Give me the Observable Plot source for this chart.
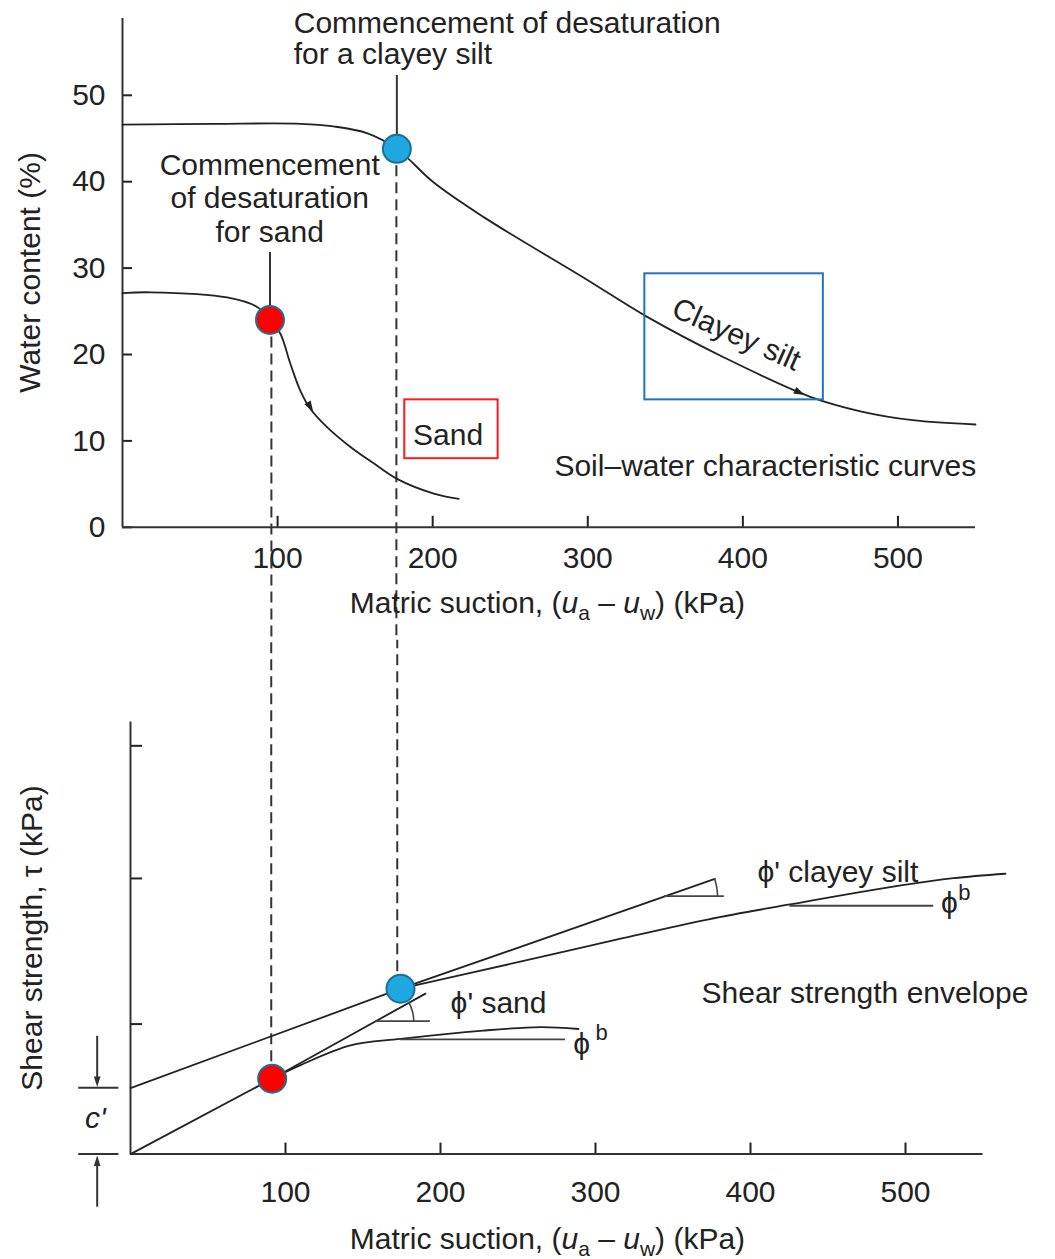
<!DOCTYPE html>
<html><head><meta charset="utf-8">
<script src="https://cdn.jsdelivr.net/npm/d3@7"></script>
<script src="https://cdn.jsdelivr.net/npm/@observablehq/plot@0.6"></script>
<style>
body{margin:0;background:#fff;}
#chart svg{display:block;}
</style></head><body><div id="chart"></div>
<script>
// ================= DATA =================
// --- Top panel: soil–water characteristic curves (suction kPa, water content %) ---
const clayeySiltSuction = [0, 61, 115, 136, 158, 176.9, 200.7, 232.9, 300, 336.9, 388.5, 443.5, 476.5, 509.5, 550];
const clayeySiltWater   = [46.6, 46.7, 46.7, 46.4, 45.6, 43.8, 39.9, 35.9, 28.6, 24.5, 19.6, 15.1, 13.4, 12.4, 11.9];
const sandSuction = [0, 18, 67.5, 86.8, 95.1, 101.8, 108.3, 114.7, 121.2, 131.9, 147, 162, 177, 200.7, 216.8];
const sandWater   = [27.1, 27.2, 26.6, 25.5, 24.0, 22.4, 18.9, 15.8, 13.7, 11.6, 9.3, 7.4, 5.6, 3.9, 3.3];
// commencement of desaturation: [sand, clayey silt]
const desatSuction = [95.1, 176.9];
const desatWater   = [24.0, 43.8];
const desatDashX   = [96.0, 176.6];
const leaderTopWater = [31.8, 52.3];
const topXTicks = [100, 200, 300, 400, 500];
const topYTicks = [0, 10, 20, 30, 40, 50];
// arrowheads on the curves: tip and a point behind it
const topArrowTipX = [123.0, 440.0], topArrowTipY = [13.35, 15.3];
const topArrowFromX = [116.0, 425.0], topArrowFromY = [15.45, 16.6];
// boxes around curve names
const boxX1 = [182, 336.8], boxX2 = [242.2, 451.9], boxY1 = [7.94, 14.75], boxY2 = [14.75, 29.34];
const boxColors = ["#ff1a1a", "#1f74c2"];

// --- Bottom panel: shear strength envelopes (suction kPa, shear strength kPa) ---
const cPrime = 25.5;
const clayPhiPrimeX = [0, 174.2, 377];   const clayPhiPrimeY = [25.4, 63.6, 105.8];
const clayEnvX = [174.2, 250, 310, 373, 425.5, 497, 531, 564.5];
const clayEnvY = [63.6, 73.8, 82, 90.3, 96, 103.3, 106.1, 107.8];
const sandPhiPrimeX = [0, 91.4, 190.3];  const sandPhiPrimeY = [0, 29.0, 61.7];
const sandEnvX = [91.4, 109.7, 141.9, 174.2, 227.7, 264.5, 289];
const sandEnvY = [29.0, 34.2, 41.8, 44.3, 47.5, 48.8, 48.1];
const shearDesatX = [91.4, 174.2], shearDesatY = [29.0, 63.6];
const shearDashX = [90.8, 172.1];
const refX1 = [158.2, 344.5, 174.2, 425.5], refX2 = [193.5, 383.1, 280.6, 518.2], refY = [51.1, 99.2, 44.1, 95.5];
const arcVertexX = [158.2, 344.5], arcVertexY = [51.1, 99.2], arcRadius = [38, 53];
const botXTicks = [100, 200, 300, 400, 500];
const botYTicks = [50, 106, 157];

const pointColors = ["#ff0000", "#1fa8e0"];

// texts
const XTITLE = "Matric suction, (ua – uw) (kPa)";
const PHI = "\u03D5";
const topTexts = [
  {x: 110.4, y: 56.59, t: "Commencement of desaturation\nfor a clayey silt", a: "start", lh: 1.055},
  {x: 94.9, y: 38.15, t: "Commencement\nof desaturation\nfor sand", a: "middle", lh: 1.11},
  {x: 209.9, y: 10.78, t: "Sand", a: "middle", lh: 1},
  {x: 278.5, y: 7.1, t: "Soil–water characteristic curves", a: "start", lh: 1}
];
const botTexts = [
  {x: 404.5, y: 108.5, t: PHI + "' clayey silt"},
  {x: 206.5, y: 57.9, t: PHI + "' sand"},
  {x: 368.4, y: 61.8, t: "Shear strength envelope"}
];
const phiTexts = [{x: 528.4, y: 96.6, t: PHI}, {x: 291.0, y: 42.2, t: PHI}];
const supTexts = [{x: 538, y: 100.3, t: "b"}, {x: 304, y: 46.4, t: "b"}];

// ================= LAYOUT =================
const W = 1055, TOP_H = 640, BOT_H = 619;
const FONT = "'Liberation Sans', Arial, Helvetica, 'DejaVu Sans', sans-serif";
const INK = "#222", AX = "#333";
const XD = [0, 550];
const TM = {l: 122, r: 80, t: 17.9, b: 113.2}, TYD = [0, 58.9];
const BM = {l: 130, r: 72.5, t: 81.4, b: 105.4}, BYD = [0, 166.2];
const tkx = (W - TM.l - TM.r) / (XD[1] - XD[0]), tky = (TOP_H - TM.t - TM.b) / (TYD[1] - TYD[0]);
const bkx = (W - BM.l - BM.r) / (XD[1] - XD[0]), bky = (BOT_H - BM.t - BM.b) / (BYD[1] - BYD[0]);

const rows = (xs, ys) => xs.map((x, i) => ({x, y: ys[i]}));
const rot = (dx, dy, kx, ky) => Math.atan2(dx * kx, dy * ky) * 180 / Math.PI;
const arrowHead = {draw(ctx, size) { const r = Math.sqrt(size / Math.PI); const h = r * 2.5, w = r * 0.8; ctx.moveTo(0, 0); ctx.lineTo(-w, h); ctx.lineTo(w, h); ctx.closePath(); }};
const DASH = {stroke: AX, strokeWidth: 2, strokeDasharray: "11,6"};

// ================= TOP PLOT =================
const topHeads = topArrowTipX.map((x, i) => ({x, y: topArrowTipY[i], r: rot(x - topArrowFromX[i], topArrowTipY[i] - topArrowFromY[i], tkx, tky)}));
const topPts = desatSuction.map((x, i) => ({x, y: desatWater[i], c: pointColors[i]}));
const topBoxes = boxX1.map((x1, i) => ({x1, x2: boxX2[i], y1: boxY1[i], y2: boxY2[i], c: boxColors[i]}));

const topPlot = Plot.plot({
  width: W, height: TOP_H,
  marginLeft: TM.l, marginRight: TM.r, marginTop: TM.t, marginBottom: TM.b,
  x: {domain: XD, label: null},
  y: {domain: TYD, label: null},
  style: {fontFamily: FONT, fontSize: "30px", color: INK, background: "white", overflow: "visible"},
  marks: [
    Plot.axisX(topXTicks, {tickSize: -11, tickFormat: () => "", strokeWidth: 2, label: null}),
    Plot.axisX(topXTicks, {tickSize: 0, tickPadding: 19, label: null}),
    Plot.axisY(topYTicks, {tickSize: -10, tickFormat: () => "", strokeWidth: 2, label: null}),
    Plot.axisY(topYTicks, {tickSize: 0, tickPadding: 17, label: null}),
    Plot.ruleY([0], {x1: XD[0], x2: XD[1], stroke: AX, strokeWidth: 2}),
    Plot.ruleX([0], {y1: TYD[0], y2: TYD[1], stroke: AX, strokeWidth: 2}),
    Plot.ruleX(desatDashX.map((x, i) => ({x, y1: desatWater[i], y2: -13.2})), {x: "x", y1: "y1", y2: "y2", ...DASH}),
    Plot.ruleX(desatSuction.map((x, i) => ({x, y1: desatWater[i], y2: leaderTopWater[i]})), {x: "x", y1: "y1", y2: "y2", stroke: AX, strokeWidth: 2}),
    Plot.line(rows(clayeySiltSuction, clayeySiltWater), {x: "x", y: "y", curve: "catmull-rom", stroke: INK, strokeWidth: 1.8}),
    Plot.line(rows(sandSuction, sandWater), {x: "x", y: "y", curve: "catmull-rom", stroke: INK, strokeWidth: 1.8}),
    Plot.dot(topHeads, {x: "x", y: "y", r: 4.5, symbol: arrowHead, rotate: "r", fill: INK, stroke: "none"}),
    Plot.rect(topBoxes, {x1: "x1", x2: "x2", y1: "y1", y2: "y2", fill: "none", stroke: "c", strokeWidth: 2}),
    Plot.dot(topPts, {x: "x", y: "y", r: 14, fill: "c", stroke: "#1d6f98", strokeWidth: 2}),
    Plot.text(topTexts, {x: "x", y: "y", text: "t", textAnchor: "start", lineHeight: 1.055, fill: INK, fontSize: 30, filter: d => d.a === "start" && d.lh !== 1}),
    Plot.text(topTexts, {x: "x", y: "y", text: "t", textAnchor: "middle", lineHeight: 1.11, fill: INK, fontSize: 30, filter: d => d.a === "middle"}),
    Plot.text(topTexts, {x: "x", y: "y", text: "t", textAnchor: "start", fill: INK, fontSize: 30, filter: d => d.a === "start" && d.lh === 1}),
    Plot.text([{x: 395.8, y: 22.3, t: "Clayey silt"}], {x: "x", y: "y", text: "t", rotate: 24, fill: INK, fontSize: 30}),
    Plot.text([{x: -59.3, y: 29.5, t: "Water content (%)"}], {x: "x", y: "y", text: "t", rotate: -90, fill: INK, fontSize: 30}),
    Plot.text([{x: 274, y: -8.8, t: XTITLE}], {x: "x", y: "y", text: "t", fill: INK, fontSize: 30})
  ]
});

// ================= BOTTOM PLOT =================
const arcs = [];
[[sandPhiPrimeX, sandPhiPrimeY], [clayPhiPrimeX, clayPhiPrimeY]].forEach(([xs, ys], k) => {
  const n = xs.length - 1;
  const ang = Math.atan(((ys[n] - ys[n - 1]) / (xs[n] - xs[n - 1])) * bky / bkx);
  for (let j = 0; j <= 12; j++) {
    const a = ang * j / 12;
    arcs.push({k, x: arcVertexX[k] + arcRadius[k] * Math.cos(a) / bkx, y: arcVertexY[k] + arcRadius[k] * Math.sin(a) / bky});
  }
});
const cArrowX = -21.5;
const cHeads = [{x: cArrowX, y: cPrime + 0.3, r: 180}, {x: cArrowX, y: -0.5, r: 0}];
const botPts = shearDesatX.map((x, i) => ({x, y: shearDesatY[i], c: pointColors[i]}));

const botPlot = Plot.plot({
  width: W, height: BOT_H,
  marginLeft: BM.l, marginRight: BM.r, marginTop: BM.t, marginBottom: BM.b,
  x: {domain: XD, label: null},
  y: {domain: BYD, label: null},
  style: {fontFamily: FONT, fontSize: "30px", color: INK, background: "white", overflow: "visible"},
  marks: [
    Plot.axisX(botXTicks, {tickSize: -11, tickFormat: () => "", strokeWidth: 2, label: null}),
    Plot.axisX(botXTicks, {tickSize: 0, tickPadding: 27, label: null}),
    Plot.axisY(botYTicks, {tickSize: -12, tickFormat: () => "", strokeWidth: 2, label: null}),
    Plot.ruleY([0], {x1: XD[0], x2: XD[1], stroke: AX, strokeWidth: 2}),
    Plot.ruleX([0], {y1: BYD[0], y2: BYD[1], stroke: AX, strokeWidth: 2}),
    // c' markers
    Plot.ruleY([0, cPrime], {x1: -33.4, x2: -7.5, stroke: AX, strokeWidth: 2}),
    Plot.ruleX([{y1: 45.3, y2: cPrime + 3}, {y1: -20.4, y2: -3}], {x: cArrowX, y1: "y1", y2: "y2", stroke: AX, strokeWidth: 2}),
    Plot.dot(cHeads, {x: "x", y: "y", r: 4.2, symbol: arrowHead, rotate: "r", fill: AX, stroke: "none"}),
    Plot.text([{x: -22.6, y: 13.6, t: "c'"}], {x: "x", y: "y", text: "t", fontStyle: "italic", fill: INK, fontSize: 30}),
    // dashed links from the upper panel
    Plot.ruleX(shearDashX.map((x, i) => ({x, y1: shearDesatY[i], y2: 197.6})), {x: "x", y1: "y1", y2: "y2", ...DASH}),
    // envelopes
    Plot.line(rows(clayPhiPrimeX, clayPhiPrimeY), {x: "x", y: "y", stroke: INK, strokeWidth: 1.8}),
    Plot.line(rows(clayEnvX, clayEnvY), {x: "x", y: "y", curve: "catmull-rom", stroke: INK, strokeWidth: 1.8}),
    Plot.line(rows(sandPhiPrimeX, sandPhiPrimeY), {x: "x", y: "y", stroke: INK, strokeWidth: 1.8}),
    Plot.line(rows(sandEnvX, sandEnvY), {x: "x", y: "y", curve: "catmull-rom", stroke: INK, strokeWidth: 1.8}),
    Plot.ruleY(refX1.map((x1, i) => ({x1, x2: refX2[i], y: refY[i]})), {x1: "x1", x2: "x2", y: "y", stroke: "#444", strokeWidth: 1.8}),
    Plot.line(arcs, {x: "x", y: "y", z: "k", stroke: "#444", strokeWidth: 1.6}),
    Plot.dot(botPts, {x: "x", y: "y", r: 14, fill: "c", stroke: "#1d6f98", strokeWidth: 2}),
    Plot.text(botTexts, {x: "x", y: "y", text: "t", textAnchor: "start", fill: INK, fontSize: 30}),
    Plot.text(phiTexts, {x: "x", y: "y", text: "t", fill: INK, fontSize: 30}),
    Plot.text(supTexts, {x: "x", y: "y", text: "t", fill: INK, fontSize: 22}),
    Plot.text([{x: -63.4, y: 83.1, t: "Shear strength, τ (kPa)"}], {x: "x", y: "y", text: "t", rotate: -90, fill: INK, fontSize: 30}),
    Plot.text([{x: 269, y: -32.8, t: XTITLE}], {x: "x", y: "y", text: "t", fill: INK, fontSize: 30})
  ]
});

// rich x-axis titles with italic u and subscripts
function richTitle(svg) {
  d3.select(svg).selectAll("text").filter(function() { return this.textContent === XTITLE; }).each(function() {
    const t = d3.select(this);
    t.text(null);
    const parts = [["Matric suction, (", null, 0], ["u", "italic", 0], ["a", null, 7], [" – ", null, -7], ["u", "italic", 0], ["w", null, 7], [") (kPa)", null, -7]];
    parts.forEach(([s, fs, dy]) => {
      const sp = t.append("tspan").text(s);
      if (fs) sp.attr("font-style", fs);
      if (dy) sp.attr("dy", dy);
      if (dy > 0) sp.attr("font-size", "21px");
    });
  });
}
richTitle(topPlot); richTitle(botPlot);

document.getElementById("chart").append(topPlot, botPlot);
</script></body></html>
